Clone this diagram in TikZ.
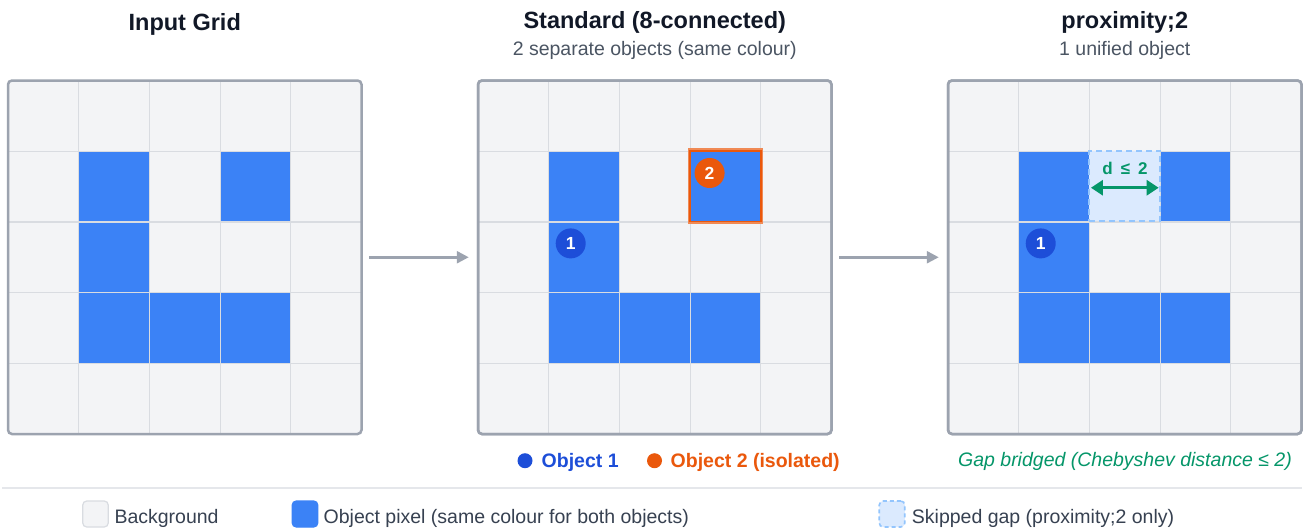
\documentclass[tikz,border=0pt]{standalone}
\usepackage{fontspec}
\setmainfont{Liberation Sans}
\usetikzlibrary{arrows.meta}

\definecolor{cellbg}{HTML}{F3F4F6}
\definecolor{cellline}{HTML}{D9DCE1}
\definecolor{frameclr}{HTML}{9CA3AF}
\definecolor{pix}{HTML}{3B82F6}
\definecolor{objone}{HTML}{1D4ED8}
\definecolor{objtwo}{HTML}{EA580C}
\definecolor{gapfill}{HTML}{DBEAFE}
\definecolor{gapline}{HTML}{93C5FD}
\definecolor{bridge}{HTML}{059669}
\definecolor{titleclr}{HTML}{111827}
\definecolor{subclr}{HTML}{4B5563}
\definecolor{legclr}{HTML}{374151}
\definecolor{sepclr}{HTML}{E5E7EB}

% one 5x5 panel: #1 = left edge, #2 = name of its frame node
\newcommand\drawpanel[2]{%
  \begin{scope}[shift={(#1,80.5)}]
    \fill[cellbg,rounded corners=4pt] (0,0) rectangle (353.5,353.5);
    \foreach \c/\r in {1/1,3/1,1/2,1/3,2/3,3/3}
      \fill[pix] (\c*70.7,\r*70.7) rectangle ++(70.7,70.7);
    \foreach \k in {1,...,4} {
      \draw[gridline] (\k*70.7,0) -- (\k*70.7,353.5);
      \draw[gridline] (0,\k*70.7) -- (353.5,\k*70.7);
    }
  \end{scope}
  \node[panel] (#2) at (#1+176.75,257.25) {};
}

\begin{document}
\begin{tikzpicture}[x=1pt,y=-1pt,
  title/.style={anchor=base,inner sep=0pt,text=titleclr,
    font=\fontsize{23.5}{28}\selectfont\bfseries},
  subtitle/.style={anchor=base,inner sep=0pt,text=subclr,
    font=\fontsize{19.5}{23}\selectfont},
  gridline/.style={cellline,line width=1.2pt},
  panel/.style={draw=frameclr,line width=2.5pt,rounded corners=4pt,
    minimum size=353.5pt,inner sep=0pt},
  flow/.style={draw=frameclr,line width=2.5pt,
    -{Triangle[length=12pt,width=12pt]}},
  badge/.style={circle,inner sep=0pt,minimum size=30pt,text=white,
    font=\fontsize{17.5}{20}\selectfont\bfseries},
  gapbox/.style={fill=gapfill,draw=gapline,line width=2pt,
    dash pattern=on 6pt off 4pt,minimum size=70.7pt,inner sep=0pt},
  hilite/.style={draw=objtwo,line width=1.6pt,minimum size=70.5pt,inner sep=0pt},
  halo/.style={draw=objtwo!70,line width=1.2pt,minimum size=74pt,inner sep=0pt},
  keytext/.style={anchor=base west,inner sep=0pt,
    font=\fontsize{19.5}{23}\selectfont\bfseries},
  legtext/.style={anchor=base west,inner sep=0pt,text=legclr,
    font=\fontsize{19.5}{23}\selectfont},
  legbox/.style={minimum width=25.5pt,minimum height=26pt,inner sep=0pt,
    rounded corners=4pt,line width=1.2pt},
  dot/.style={circle,inner sep=0pt,minimum size=15pt}
]
\useasboundingbox (0,0) rectangle (1305,527);
\clip (0,0) rectangle (1305,527);
\fill[white] (0,0) rectangle (1305,527);

% titles
\node[title] (t1) at (184.75,31) {Input Grid};
\node[title] (t2) at (654.75,29) {Standard (8-connected)};
\node[subtitle] (s2) at (654.75,56) {2 separate objects (same colour)};
\node[title] (t3) at (1124.75,29) {proximity;2};
\node[subtitle] (s3) at (1124.75,56) {1 unified object};

% the three grids
\drawpanel{8}{G1}
\drawpanel{478}{G2}
\drawpanel{948}{G3}

% standard labelling: isolated pixel outlined
\node[halo] (obj2ring) at (725.45,186.05) {};
\node[hilite] (obj2) at (725.45,186.05) {};
\node[badge,fill=objone] (b1) at (570.7,243.4) {1};
\node[badge,fill=objtwo] (b2) at (709.6,173) {2};

% proximity labelling: bridged gap
\node[gapbox] (gap) at (1124.8,186.05) {};
\node[anchor=base,inner sep=0pt,text=bridge,
  font=\fontsize{17}{20}\selectfont\bfseries] (dlabel) at (1125,174.5)
  {d\hspace{8pt}≤\hspace{8pt}2};
\draw[bridge,line width=3pt,
  {Triangle[length=12pt,width=15pt]}-{Triangle[length=12pt,width=15pt]}]
  ([xshift=2.5pt,yshift=-1.7pt]gap.west) -- ([xshift=-2.5pt,yshift=-1.7pt]gap.east);
\node[badge,fill=objone] (b3) at (1040.7,243.4) {1};

% redraw frames on top
\node[panel] at (G2) {};
\node[panel] at (G3) {};

% flow arrows between grids
\draw[flow] ([xshift=6.5pt]G1.east) -- ([xshift=-8pt]G2.west);
\draw[flow] ([xshift=6.5pt]G2.east) -- ([xshift=-8pt]G3.west);

% captions under the grids
\node[dot,fill=objone] (k1dot) at (525,460.7) {};
\node[keytext,text=objone] (k1) at (541.5,467.3) {Object 1};
\node[dot,fill=objtwo] (k2dot) at (654.5,460.7) {};
\node[keytext,text=objtwo] (k2) at (670.5,467.3) {Object 2 (isolated)};
\node[anchor=base,inner sep=0pt,text=bridge,
  font=\fontsize{19.5}{23}\selectfont\itshape] (cap3) at (1125,466.7)
  {Gap bridged (Chebyshev distance ≤ 2)};

% separator
\coordinate (sepL) at (2,488);
\coordinate (sepR) at (1302,488);
\draw[sepclr,line width=2pt] (sepL) -- (sepR);

% legend
\node[legbox,fill=cellbg,draw=cellline] (lb1) at (95.5,514) {};
\node[legtext] (lt1) at (114.3,523.3) {Background};
\node[legbox,fill=pix,draw=pix] (lb2) at (305,514) {};
\node[legtext] (lt2) at (323.5,523.3) {Object pixel (same colour for both objects)};
\node[legbox,fill=gapfill,draw=gapline,dash pattern=on 4pt off 3pt,line width=1.6pt] (lb3) at (892,514) {};
\node[legtext] (lt3) at (911.7,523.3) {Skipped gap (proximity;2 only)};
\end{tikzpicture}
\end{document}
